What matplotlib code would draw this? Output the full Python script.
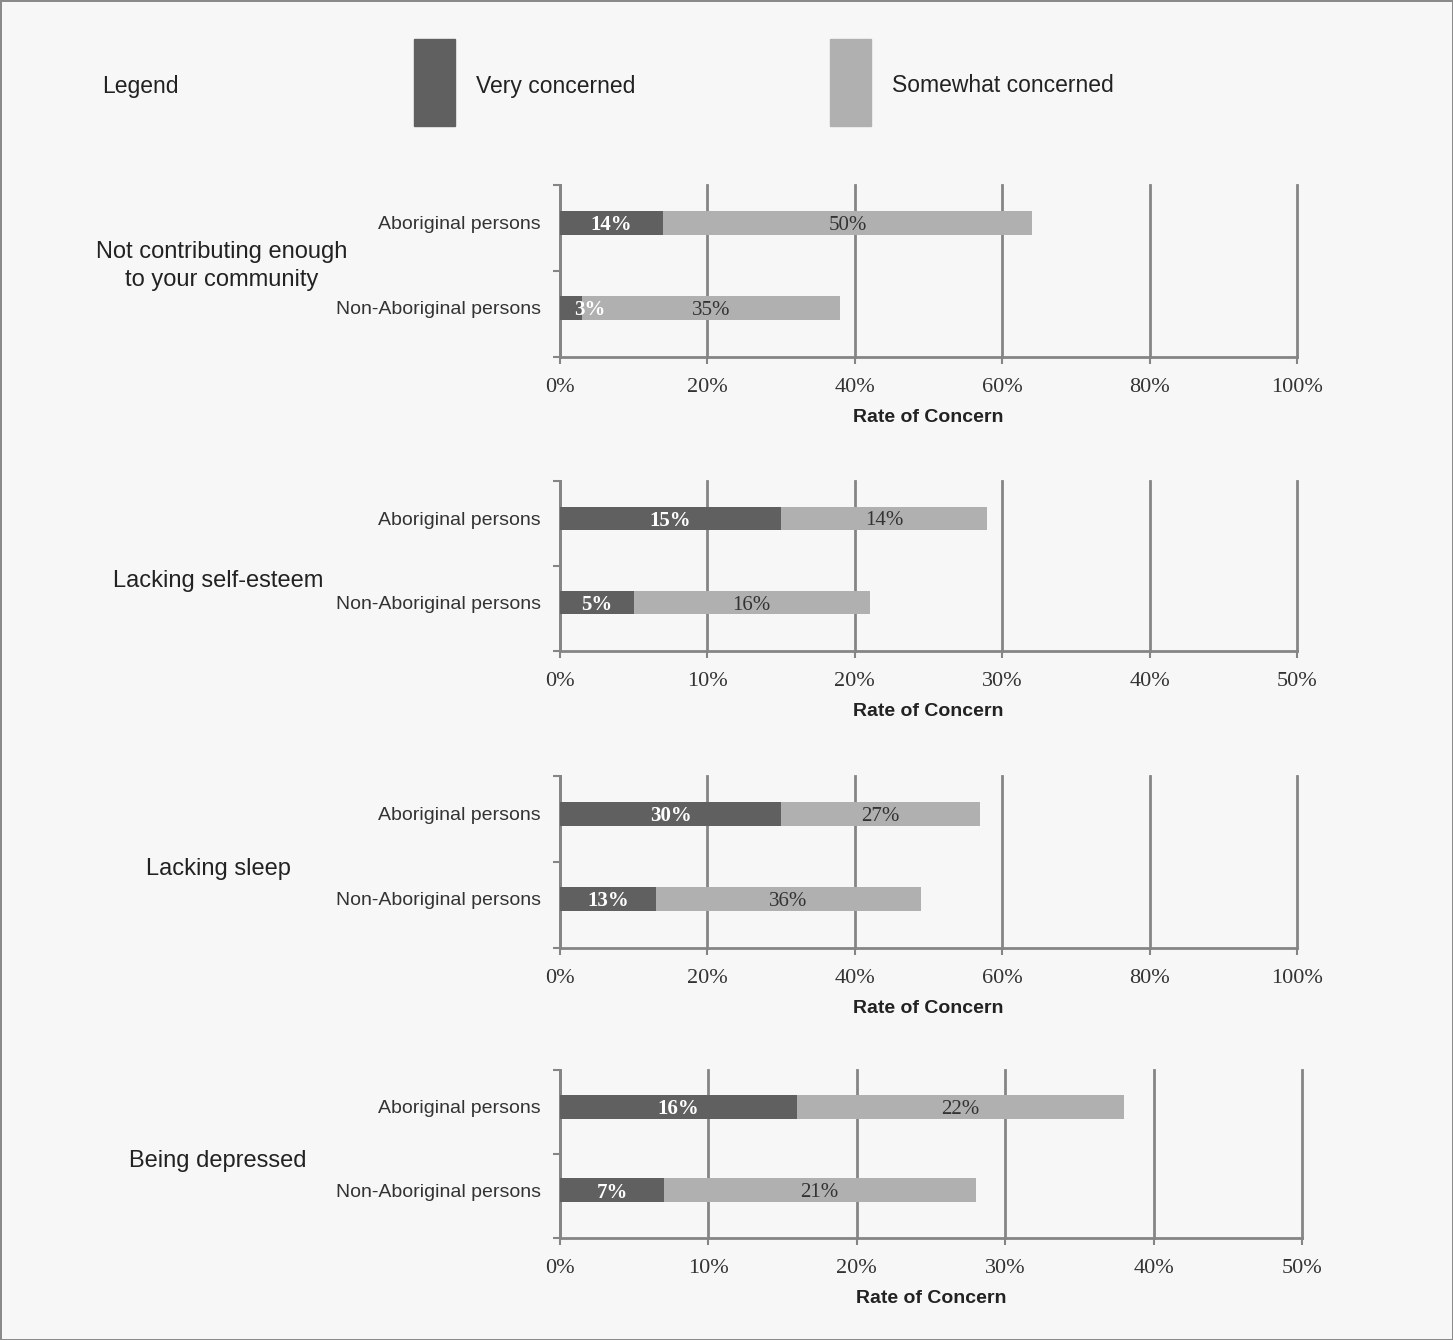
import matplotlib
matplotlib.use("Agg")
import matplotlib.pyplot as plt
from matplotlib.patches import Rectangle

groups = ["Not contributing enough\nto your community", "Lacking self-esteem",
          "Lacking sleep", "Being depressed"]
persons = ["Aboriginal persons", "Non-Aboriginal persons"]
very = [[14, 3], [15, 5], [30, 13], [16, 7]]
somewhat = [[50, 35], [14, 16], [27, 36], [22, 21]]
xmax = [100, 50, 100, 50]
xticks = [[0, 20, 40, 60, 80, 100], [0, 10, 20, 30, 40, 50],
          [0, 20, 40, 60, 80, 100], [0, 10, 20, 30, 40, 50]]

DARK = "#606060"
LIGHT = "#b0b0b0"
GRID = "#858585"
BG = "#f7f7f7"
SANS = ["Liberation Sans Narrow", "Liberation Sans", "DejaVu Sans"]
SERIF = ["Liberation Serif", "DejaVu Serif"]

W, H = 1453, 1340
fig = plt.figure(figsize=(W / 100, H / 100), dpi=100, facecolor=BG,
                 edgecolor="#8a8a8a", linewidth=2)

# panel boxes in pixels: left, top, right, bottom
boxes = [(560, 185, 1297, 357), (560, 481, 1297, 651),
         (560, 776, 1297, 948), (560, 1070, 1302, 1238)]
group_pos = [(222, 266), (218, 581), (218, 869), (218, 1161)]

for g in range(4):
    l, t, r, b = boxes[g]
    ax = fig.add_axes([l / W, 1 - b / H, (r - l) / W, (b - t) / H])
    ax.set_facecolor(BG)
    ypos = [0.44, 1.43]
    ax.barh(ypos, very[g], height=0.28, color=DARK, zorder=3)
    ax.barh(ypos, somewhat[g], left=very[g], height=0.28, color=LIGHT, zorder=3)
    for i in range(2):
        v, s = very[g][i], somewhat[g][i]
        # small segments: keep the label from hanging off the axis
        ax.text(max(v / 2, 0.04 * xmax[g]), ypos[i], f"{v}%", ha="center",
                va="center_baseline", color="white", fontweight="bold",
                family=SERIF, fontsize=15, zorder=4)
        ax.text(v + s / 2, ypos[i], f"{s}%", ha="center", va="center_baseline",
                color="#333333", family=SERIF, fontsize=15, zorder=4)
    ax.set_xlim(0, xmax[g])
    ax.set_ylim(2, 0)
    ax.set_xticks(xticks[g])
    ax.set_xticklabels([f"{x}%" for x in xticks[g]], family=SERIF,
                       fontsize=16, color="#333333")
    ax.set_yticks([0, 1, 2])
    ax.set_yticklabels([])
    ax.set_yticks(ypos, minor=True)
    ax.set_yticklabels(persons, minor=True, family=SANS, fontsize=14,
                       color="#333333")
    ax.tick_params(axis="y", which="minor", length=0, pad=14)
    ax.tick_params(axis="y", which="major", length=5, width=1.5, color=GRID)
    ax.tick_params(axis="x", length=5, width=1.5, color=GRID, pad=10)
    ax.grid(axis="x", color=GRID, lw=2, zorder=1)
    for line in ax.get_xgridlines():
        line.set_clip_on(False)
    for sp in ["top", "right"]:
        ax.spines[sp].set_visible(False)
    for sp in ["left", "bottom"]:
        ax.spines[sp].set_color(GRID)
        ax.spines[sp].set_linewidth(2)
    ax.set_xlabel("Rate of Concern", family=SANS, fontweight="bold",
                  fontsize=14, color="#222222", labelpad=9)
    gx, gy = group_pos[g]
    fig.text(gx / W, 1 - gy / H, groups[g], ha="center", va="center",
             family=SANS, fontsize=17, color="#222222", linespacing=1.3)

# legend row
fig.text(102 / W, 1 - 86 / H, "Legend", ha="left", va="center", family=SANS,
         fontsize=16.5, color="#222222")
fig.patches.append(Rectangle((414 / W, 1 - 126 / H), 41 / W, 87 / H,
                             transform=fig.transFigure, color=DARK))
fig.text(476 / W, 1 - 86 / H, "Very concerned", ha="left", va="center",
         family=SANS, fontsize=16.5, color="#222222")
fig.patches.append(Rectangle((830 / W, 1 - 126 / H), 41 / W, 87 / H,
                             transform=fig.transFigure, color=LIGHT))
fig.text(892 / W, 1 - 86 / H, "Somewhat concerned", ha="left", va="center",
         family=SANS, fontsize=16.5, color="#222222")

fig.savefig("out.png", dpi=100, facecolor=BG, edgecolor=fig.get_edgecolor())
